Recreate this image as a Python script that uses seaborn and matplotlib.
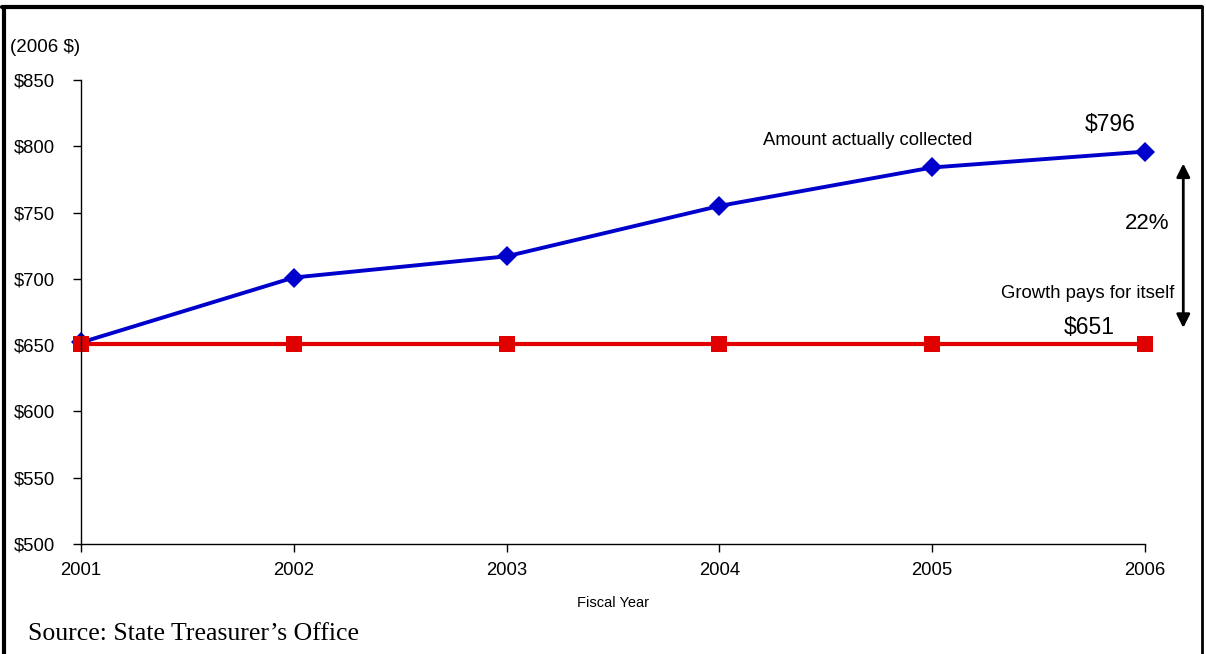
import matplotlib.pyplot as plt
import pandas as pd
import seaborn as sns
from matplotlib.lines import Line2D

years = [2001, 2002, 2003, 2004, 2005, 2006]
collected = [652, 701, 717, 755, 784, 796]
baseline = [651, 651, 651, 651, 651, 651]
y_ticks = [500, 550, 600, 650, 700, 750, 800, 850]

df = pd.DataFrame({"year": years, "collected": collected, "baseline": baseline})

sns.set_style("white")
plt.rcParams["font.family"] = ["Liberation Sans", "DejaVu Sans"]
plt.rcParams["text.color"] = "black"

fig = plt.figure(figsize=(12.06, 6.54), dpi=100)
ax = fig.add_axes([0.0672, 0.1682, 0.8822, 0.7095])

# blue first so the red square sits on top at 2001, like the original
sns.lineplot(data=df, x="year", y="collected", ax=ax, color="#0000cc",
             linewidth=2.8, marker="D", markersize=10, markeredgewidth=0,
             clip_on=False)
sns.lineplot(data=df, x="year", y="baseline", ax=ax, color="#e00000",
             linewidth=3, marker="s", markersize=11.5, markeredgewidth=0,
             clip_on=False)

ax.set_xlim(years[0], years[-1])
ax.set_ylim(y_ticks[0], y_ticks[-1])
ax.set_xticks(years)
ax.set_yticks(y_ticks)
ax.set_yticklabels([f"${v}" for v in y_ticks])
ax.tick_params(axis="both", direction="out", length=6, width=1, labelsize=13.3,
               color="black", labelcolor="black", left=True, bottom=True)
ax.tick_params(axis="x", pad=7)
ax.tick_params(axis="y", pad=13)
for s in ["top", "right"]:
    ax.spines[s].set_visible(False)
for s in ["left", "bottom"]:
    ax.spines[s].set_color("black")
    ax.spines[s].set_linewidth(1)
ax.set_xlabel("Fiscal Year", fontsize=10.5, labelpad=12, color="black")
ax.set_ylabel("")

# annotations
ax.text(2004.205, 804, "Amount actually collected", fontsize=13.3,
        ha="left", va="center")
ax.text(2005.835, 816.5, f"${collected[-1]}", fontsize=16.5,
        ha="center", va="center")
ax.text(2005.74, 663.5, f"${baseline[-1]}", fontsize=16.5,
        ha="center", va="center")
ax.text(2006.01, 742, "22%", fontsize=16, ha="center", va="center")
ax.text(2006.14, 689, "Growth pays for itself", fontsize=13.3,
        ha="right", va="center")
ax.annotate("", xy=(2006.18, 787), xytext=(2006.18, 663), annotation_clip=False,
            arrowprops=dict(arrowstyle="<|-|>", color="black", lw=2,
                            mutation_scale=20, shrinkA=0, shrinkB=0))

fig.text(0.0085, 0.927, "(2006 $)", fontsize=13.5, ha="left", va="center")
fig.text(0.023, 0.03, "Source: State Treasurer\u2019s Office", fontsize=18.5,
         ha="left", va="center", family=["Liberation Serif", "DejaVu Serif"])

# frame around the picture (no bottom edge)
fig.add_artist(Line2D([0.003, 0.003], [0, 0.989], transform=fig.transFigure,
                      color="black", lw=3))
fig.add_artist(Line2D([0.002, 0.997], [0.989, 0.989], transform=fig.transFigure,
                      color="black", lw=3))
fig.add_artist(Line2D([0.997, 0.997], [0, 0.989], transform=fig.transFigure,
                      color="black", lw=2))

fig.savefig("out.png", dpi=100)
